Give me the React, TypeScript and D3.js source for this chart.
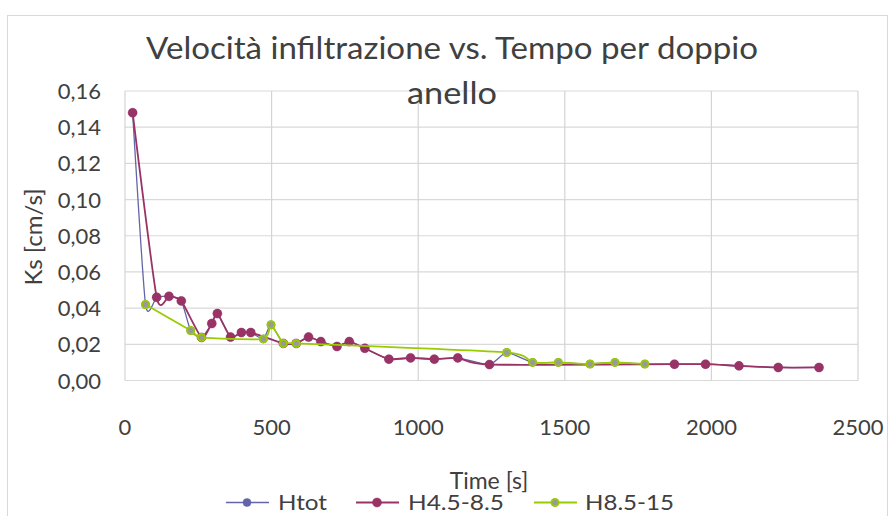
import * as d3 from 'd3';

// Tempo [s] e Ks [cm/s]
const htotTime = [26, 70, 108, 150, 192, 224, 261, 296, 315, 360, 397, 429, 472, 498, 540, 584, 626, 668, 723, 765, 818, 900, 974, 1055, 1135, 1243, 1302, 1390, 1478, 1586, 1671, 1773, 1874, 1980, 2094, 2228, 2367];
const htotKs = [0.148, 0.042, 0.046, 0.0465, 0.044, 0.0276, 0.0238, 0.0315, 0.037, 0.024, 0.0265, 0.0265, 0.023, 0.0308, 0.0205, 0.0205, 0.024, 0.0215, 0.0188, 0.0215, 0.0178, 0.0118, 0.0125, 0.0118, 0.0125, 0.0088, 0.0155, 0.01, 0.01, 0.0091, 0.01, 0.0091, 0.009, 0.009, 0.0081, 0.0072, 0.0072];

const h45Time = [26, 108, 150, 192, 261, 296, 315, 360, 397, 429, 540, 584, 626, 668, 723, 765, 818, 900, 974, 1055, 1135, 1243, 1874, 1980, 2094, 2228, 2367];
const h45Ks = [0.148, 0.046, 0.0465, 0.044, 0.0238, 0.0315, 0.037, 0.024, 0.0265, 0.0265, 0.0205, 0.0205, 0.024, 0.0215, 0.0188, 0.0215, 0.0178, 0.0118, 0.0125, 0.0118, 0.0125, 0.0088, 0.009, 0.009, 0.0081, 0.0072, 0.0072];

const h85Time = [70, 224, 261, 472, 498, 540, 584, 1302, 1390, 1478, 1586, 1671, 1773];
const h85Ks = [0.042, 0.0276, 0.0238, 0.023, 0.0308, 0.0205, 0.0205, 0.0155, 0.01, 0.01, 0.0091, 0.01, 0.0091];

const xTicks = [0, 500, 1000, 1500, 2000, 2500];
const yTicks = [0, 0.02, 0.04, 0.06, 0.08, 0.1, 0.12, 0.14, 0.16];

const series = [
  { name: 'Htot', t: htotTime, v: htotKs, line: '#6265a8', lw: 1.3, fill: '#6265a8', stroke: '#6265a8', r: 4 },
  { name: 'H4.5-8.5', t: h45Time, v: h45Ks, line: '#993366', lw: 1.8, fill: '#993366', stroke: '#993366', r: 4.5 },
  { name: 'H8.5-15', t: h85Time, v: h85Ks, line: '#99cc00', lw: 1.8, fill: '#999999', stroke: '#99cc00', r: 3.6 },
];

const width = 888;
const height = 516;
const font = 'Lato, "Open Sans", sans-serif';
const textColor = '#404040';

export default function App() {
  const x = d3.scaleLinear().domain([0, 2500]).range([125, 858]);
  const y = d3.scaleLinear().domain([0, 0.16]).range([380.5, 91]);
  const fmt = (d: number) => d.toFixed(2).replace('.', ',');

  const line = d3.line<[number, number]>()
    .x(d => x(d[0]))
    .y(d => y(d[1]))
    .curve(d3.curveCardinal.tension(0.4));

  const legendItems = [
    { s: series[0], x0: 226, tx: 278, w: 49 },
    { s: series[1], x0: 356, tx: 408, w: 96 },
    { s: series[2], x0: 534, tx: 585, w: 89 },
  ];

  return (
    <svg width={width} height={height} style={{ position: 'absolute', left: 0, top: 0, background: '#fff' }}>
      <rect x={7.5} y={15.5} width={880} height={520} fill="#fff" stroke="#d9d9d9" />

      {/* griglia */}
      {yTicks.map(t => (
        <line key={'gy' + t} x1={x(0)} x2={x(2500)} y1={y(t)} y2={y(t)} stroke="#d9d9d9" strokeWidth={1.2} />
      ))}
      {xTicks.map(t => (
        <line key={'gx' + t} x1={x(t)} x2={x(t)} y1={y(0)} y2={y(0.16)} stroke="#d4d4d4" strokeWidth={1.2} />
      ))}

      {/* etichette assi */}
      {yTicks.map(t => (
        <text key={'ty' + t} x={101} y={y(t) + 8} textAnchor="end" fontFamily={font} fontSize={22} fill={textColor}>{fmt(t)}</text>
      ))}
      {xTicks.map(t => (
        <text key={'tx' + t} x={x(t)} y={435} textAnchor="middle" fontFamily={font} fontSize={22} fill={textColor}>{t}</text>
      ))}

      <text transform="translate(42,237) rotate(-90)" textAnchor="middle" fontFamily={font} fontSize={24} fill={textColor}>Ks [cm/s]</text>
      <text x={489} y={489} textAnchor="middle" fontFamily={font} fontSize={23} fill={textColor}>Time [s]</text>

      {/* serie */}
      {series.map(s => {
        const pts: [number, number][] = s.t.map((t, i) => [t, s.v[i]]);
        return (
          <g key={s.name}>
            <path d={line(pts) || ''} fill="none" stroke={s.line} strokeWidth={s.lw} />
            {pts.map((p, i) => (
              <circle key={i} cx={x(p[0])} cy={y(p[1])} r={s.r} fill={s.fill} stroke={s.stroke} strokeWidth={s.name === 'H8.5-15' ? 1.8 : 0.5} />
            ))}
          </g>
        );
      })}

      {/* titolo */}
      <text x={452} y={59} textAnchor="middle" fontFamily={font} fontSize={30} fill={textColor} textLength={612} lengthAdjust="spacingAndGlyphs">Velocità infiltrazione vs. Tempo per doppio</text>
      <text x={452} y={104} textAnchor="middle" fontFamily={font} fontSize={30} fill={textColor} textLength={90} lengthAdjust="spacingAndGlyphs">anello</text>

      {/* legenda */}
      {legendItems.map(({ s, x0, tx, w }) => (
        <g key={'lg' + s.name}>
          <line x1={x0} x2={x0 + 43} y1={502.5} y2={502.5} stroke={s.line} strokeWidth={s.lw} />
          <circle cx={x0 + 21} cy={502.5} r={s.r} fill={s.fill} stroke={s.stroke} strokeWidth={s.name === 'H8.5-15' ? 1.8 : 0.5} />
          <text x={tx} y={510} fontFamily={font} fontSize={22} fill={textColor} textLength={w} lengthAdjust="spacingAndGlyphs">{s.name}</text>
        </g>
      ))}
    </svg>
  );
}
